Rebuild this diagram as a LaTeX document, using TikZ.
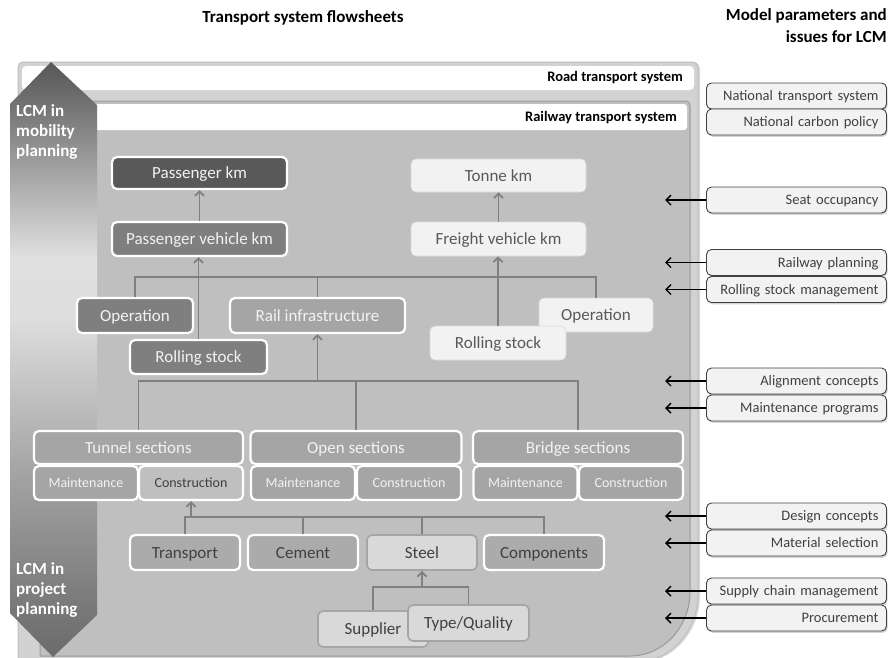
\documentclass[tikz,border=0pt]{standalone}
\usepackage{fontspec}
\setmainfont{Carlito}
\usetikzlibrary{arrows.meta,shadows}
\definecolor{cf}{HTML}{595959}
\definecolor{cs}{HTML}{7F7F7F}
\definecolor{cl}{HTML}{A5A5A5}
\definecolor{cm}{HTML}{ABABAB}
\definecolor{cp}{HTML}{F2F2F2}
\definecolor{cq}{HTML}{D9D9D9}
\definecolor{cr}{HTML}{BFBFBF}
\definecolor{ct}{HTML}{404040}
\definecolor{cb}{HTML}{9A9A9A}
\definecolor{cband}{HTML}{D2D2D2}
\definecolor{cline}{HTML}{808080}
\pgfdeclareverticalshading{lcmshade}{100bp}{rgb(0bp)=(0.42,0.42,0.42); rgb(25bp)=(0.42,0.42,0.42); rgb(29bp)=(0.47,0.47,0.47); rgb(41bp)=(0.65,0.65,0.65); rgb(53.5bp)=(0.87,0.87,0.87); rgb(58.5bp)=(0.88,0.88,0.88); rgb(67bp)=(0.60,0.60,0.60); rgb(72bp)=(0.43,0.43,0.43); rgb(75bp)=(0.34,0.34,0.34); rgb(100bp)=(0.34,0.34,0.34)}
\tikzset{
  box/.style={rounded corners=5pt, draw=white, line width=2.2pt, inner sep=0pt,
    font=\fontsize{17}{20}\selectfont, text=cp, text height=11pt, text depth=0pt},
  darkbox/.style={box, fill=cf},
  midbox/.style={box, fill=cs},
  lightbox/.style={box, fill=cl},
  palebox/.style={rounded corners=5pt, draw=cp!90!black, line width=0.6pt, fill=cp, inner sep=0pt,
    font=\fontsize{17}{20}\selectfont, text=cf, text height=11pt, text depth=0pt},
  subbox/.style={box, fill=cl, font=\fontsize{14}{16}\selectfont, text height=9pt,
    minimum width=104pt, minimum height=34pt},
  matbox/.style={box, fill=cm, text=ct, minimum height=35pt},
  matlbox/.style={rounded corners=5pt, draw=cl, line width=1.6pt, fill=cq, inner sep=0pt,
    font=\fontsize{17}{20}\selectfont, text=ct, minimum height=36pt, text height=11pt, text depth=0pt},
  param/.style={rounded corners=5pt, draw=ct, line width=0.9pt, fill=cp, text=ct,
    font=\fontsize{14.5}{16}\selectfont, minimum height=26pt, text width=164pt, align=right,
    inner xsep=8pt, inner ysep=0pt, text height=9.5pt, text depth=0pt,
    drop shadow={shadow xshift=1.2pt, shadow yshift=-1.8pt, opacity=0.35}},
  conn/.style={draw=cline, line width=1.8pt},
  carr/.style={conn, -{Straight Barb[length=4.5pt,width=9pt]}},
  parr/.style={draw=black, line width=1.4pt, -{Straight Barb[length=5pt,width=10pt]}},
  hdr/.style={font=\bfseries\fontsize{17}{22}\selectfont, inner sep=0pt}
}
\begin{document}
\begin{tikzpicture}[x=1pt,y=-1pt]
\useasboundingbox (0,0) rectangle (890,657);
% titles
\node[hdr] (t1) at (303,18) {Transport system flowsheets};
\node[hdr, anchor=north east, align=right] (t2) at (887,8) {Model parameters and\\issues for LCM};
% road transport system box
\path[fill=cband, draw=cr, line width=1pt, drop shadow={shadow xshift=2pt, shadow yshift=-1pt, opacity=0.3}]
  (18,662) -- (18,67) .. controls (18,64.2) and (20.2,62) .. (23,62) -- (693,62)
  .. controls (695.8,62) and (698,64.2) .. (698,67) -- (698,595)
  .. controls (698,630) and (671,662) .. (636,662) -- cycle;
\fill[white, rounded corners=4pt] (22,66) rectangle (694,90);
\node[anchor=east, font=\bfseries\fontsize{14.5}{16}\selectfont, inner sep=0pt] (roadlbl) at (683,78) {Road transport system};
% railway transport system box
\path[fill=cr, draw=cb, line width=1pt]
  (40,656) -- (40,106) .. controls (40,103) and (42,101) .. (45,101) -- (686,101)
  .. controls (688.5,101) and (690,103) .. (690,106) -- (690,592)
  .. controls (690,626) and (664,656) .. (630,656) -- cycle;
\fill[white, rounded corners=3pt] (43,104) rectangle (687,130);
\node[anchor=east, font=\bfseries\fontsize{14.5}{16}\selectfont, inner sep=0pt] (raillbl) at (677,118) {Railway transport system};
% LCM double arrow
\path[shading=lcmshade] (51,62) -- (97,105) -- (97,615) -- (53,657) -- (10,613) -- (10,104) -- cycle;
\node[anchor=north west, align=left, text=white, font=\bfseries\fontsize{17}{20}\selectfont, inner sep=0pt] (lcm1) at (16,104) {LCM in\\mobility\\planning};
\node[anchor=north west, align=left, text=white, font=\bfseries\fontsize{17}{20}\selectfont, inner sep=0pt] (lcm2) at (16,562) {LCM in\\project\\planning};
% top level nodes
\node[darkbox, minimum width=175pt, minimum height=32pt] (pkm) at (199.5,173) {Passenger km};
\node[midbox, minimum width=175pt, minimum height=34pt] (pvkm) at (199.5,239) {Passenger vehicle km};
\node[palebox, minimum width=175pt, minimum height=33pt] (tkm) at (498.5,175.5) {Tonne km};
\node[palebox, minimum width=175pt, minimum height=34pt] (fvkm) at (498.5,239) {Freight vehicle km};
% second level
\node[midbox, minimum width=116pt, minimum height=35pt] (opL) at (135,315.5) {Operation};
\node[lightbox, minimum width=175pt, minimum height=35pt] (rail) at (317.5,315.5) {Rail infrastructure};
\node[midbox, minimum width=137pt, minimum height=34pt] (rsL) at (198.5,357) {Rolling stock};
\node[palebox, minimum width=114pt, minimum height=34pt] (opR) at (596,315) {Operation};
\node[palebox, minimum width=136pt, minimum height=34pt] (rsR) at (498,343) {Rolling stock};
% sections
\node[lightbox, minimum width=209pt, minimum height=33pt] (tun) at (138.5,447.5) {Tunnel sections};
\node[lightbox, minimum width=211pt, minimum height=33pt] (opn) at (356,447.5) {Open sections};
\node[lightbox, minimum width=210pt, minimum height=33pt] (brg) at (578,447.5) {Bridge sections};
\node[subbox] (tm) at (86,483) {Maintenance};
\node[subbox, fill=cr, text=ct] (tc) at (191,483) {Construction};
\node[subbox] (om) at (303,483) {Maintenance};
\node[subbox] (oc) at (409,483) {Construction};
\node[subbox] (bm) at (525.5,483) {Maintenance};
\node[subbox] (bc) at (631,483) {Construction};
% materials
\node[matbox, minimum width=110pt] (trn) at (185,552.5) {Transport};
\node[matbox, minimum width=110pt] (cem) at (303,552.5) {Cement};
\node[matlbox, minimum width=110pt, minimum height=35pt] (stl) at (422,552.5) {Steel};
\node[matbox, minimum width=120pt] (cmp) at (544,552.5) {Components};
\node[matlbox, minimum width=110pt] (sup) at (373,629) {Supplier};
\node[matlbox, minimum width=121pt] (tq) at (468.5,623) {Type/Quality};
% bus coordinates
\coordinate (bus1) at (0,277);
\coordinate (bus2) at (0,381);
\coordinate (bus3) at (0,517);
\coordinate (bus4) at (0,587);
% connectors
\draw[carr] (pvkm.north) -- (pkm.south);
\draw[carr] (fvkm.north) -- (tkm.south);
\draw[conn] (opL.north) -- (opL.north |- bus1) -- (opR.north |- bus1) -- (opR.north);
\draw[conn] (rail.north) -- (rail.north |- bus1);
\draw[carr] (rsL.north) -- (rsL.north |- pvkm.south);
\draw[carr] (rsR.north) -- (rsR.north |- fvkm.south);
\draw[conn] (tun.north) -- (tun.north |- bus2) -- (brg.north |- bus2) -- (brg.north);
\draw[conn] (opn.north) -- (opn.north |- bus2);
\draw[carr] (rail.south |- bus2) -- (rail.south);
\draw[conn] (trn.north) -- (trn.north |- bus3) -- (cmp.north |- bus3) -- (cmp.north);
\draw[conn] (cem.north) -- (cem.north |- bus3);
\draw[conn] (stl.north) -- (stl.north |- bus3);
\draw[carr] (tc.south |- bus3) -- (tc.south);
\draw[conn] (sup.north) -- (sup.north |- bus4) -- (tq.north |- bus4) -- (tq.north);
\draw[carr] (stl.south |- bus4) -- (stl.south);
% parameter boxes
\node[param] (nts) at (796.5,96) {National transport system};
\node[param] (ncp) at (796.5,122) {National carbon policy};
\node[param] (seat) at (796.5,200) {Seat occupancy};
\node[param] (rp) at (796.5,262.5) {Railway planning};
\node[param] (rsm) at (796.5,289.5) {Rolling stock management};
\node[param] (aln) at (796.5,381) {Alignment concepts};
\node[param] (mpr) at (796.5,408) {Maintenance programs};
\node[param] (dsg) at (796.5,516) {Design concepts};
\node[param] (mts) at (796.5,543) {Material selection};
\node[param] (scm) at (796.5,591) {Supply chain management};
\node[param] (prc) at (796.5,618) {Procurement};
\coordinate (tipx) at (665,0);
\foreach \n in {seat,rp,rsm,aln,mpr,dsg,mts,scm,prc}
  \draw[parr] (\n.west) -- (\n.west -| tipx);
\end{tikzpicture}
\end{document}
